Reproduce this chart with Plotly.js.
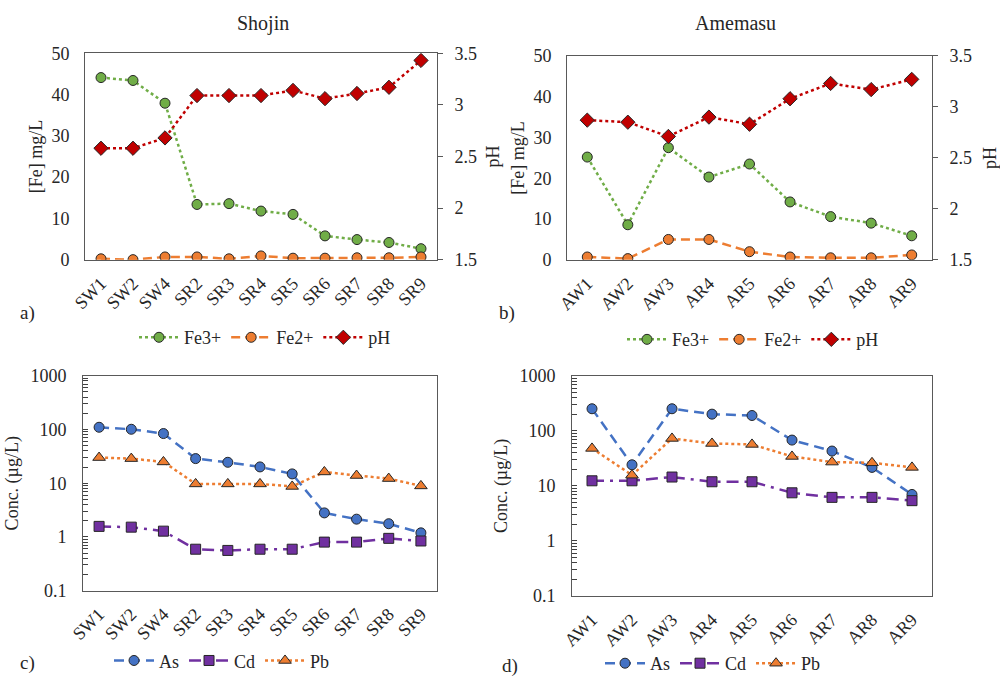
<!DOCTYPE html>
<html>
<head>
<meta charset="utf-8">
<script src="https://cdn.plot.ly/plotly-3.0.1.min.js"></script>
<style>
  html, body { margin: 0; padding: 0; background: #fff; }
  #chart { width: 1000px; height: 682px; }
</style>
</head>
<body>
<div id="chart"></div>
<script>
// Sampling sites
const shojinSites = ['SW1', 'SW2', 'SW4', 'SR2', 'SR3', 'SR4', 'SR5', 'SR6', 'SR7', 'SR8', 'SR9'];
const amemasuSites = ['AW1', 'AW2', 'AW3', 'AR4', 'AR5', 'AR6', 'AR7', 'AR8', 'AR9'];

// Iron species (mg/L) and pH — Shojin
const shojinFe3 = [44.1, 43.4, 37.9, 13.4, 13.6, 11.8, 11.0, 5.8, 4.9, 4.2, 2.7];
const shojinFe2 = [0.25, 0.05, 0.7, 0.7, 0.25, 0.95, 0.4, 0.4, 0.5, 0.5, 0.7];
const shojinPH = [2.58, 2.58, 2.68, 3.09, 3.09, 3.09, 3.14, 3.06, 3.11, 3.17, 3.43];

// Iron species (mg/L) and pH — Amemasu
const amemasuFe3 = [25.2, 8.6, 27.5, 20.3, 23.5, 14.2, 10.6, 9.0, 5.9];
const amemasuFe2 = [0.7, 0.3, 5.0, 5.0, 2.0, 0.7, 0.5, 0.5, 1.2];
const amemasuPH = [2.87, 2.85, 2.71, 2.90, 2.83, 3.08, 3.23, 3.17, 3.27];

// Trace metals (µg/L) — Shojin
const shojinAs = [110, 101, 84, 28.7, 24.5, 20.1, 14.9, 2.8, 2.14, 1.76, 1.19];
const shojinCd = [1.57, 1.52, 1.28, 0.59, 0.56, 0.59, 0.59, 0.80, 0.80, 0.94, 0.84];
const shojinPb = [30, 28.7, 24.9, 9.7, 9.7, 9.7, 8.7, 16.2, 13.9, 12.2, 8.9];

// Trace metals (µg/L) — Amemasu
const amemasuAs = [252, 24.2, 252, 201, 190, 68, 43, 21.7, 7.0];
const amemasuCd = [12.4, 12.4, 14.5, 11.9, 11.9, 7.5, 6.2, 6.2, 5.4];
const amemasuPb = [48, 15.7, 72.8, 59, 56.7, 34.3, 27.1, 26.3, 21.7];

// Decade labels of the concentration axis
const decadeLabels = ['0.1', '1', '10', '100', '1000'];

const FONT = 'Liberation Serif';
const TXT = '#262626';
const AXLINE = '#595959';
const MK_LINE = { color: '#262626', width: 1 };

const GREEN = '#70AD47', ORANGE = '#ED7D31', RED = '#C00000';
const BLUE = '#4472C4', PURPLE = '#7030A0';

function ironTraces(x, fe3, fe2, ph, xa, ya, ya2, leg) {
  return [
    { x: x, y: fe3, name: 'Fe3+', xaxis: xa, yaxis: ya, legend: leg, type: 'scatter', mode: 'lines+markers',
      line: { color: GREEN, width: 2.5, dash: 'dot' },
      marker: { symbol: 'circle', size: 10, color: GREEN, line: MK_LINE } },
    { x: x, y: fe2, name: 'Fe2+', xaxis: xa, yaxis: ya, legend: leg, type: 'scatter', mode: 'lines+markers',
      line: { color: ORANGE, width: 2.5, dash: '9px,5px' },
      marker: { symbol: 'circle', size: 10, color: ORANGE, line: MK_LINE } },
    { x: x, y: ph, name: 'pH', xaxis: xa, yaxis: ya2, legend: leg, type: 'scatter', mode: 'lines+markers',
      line: { color: RED, width: 2.5, dash: 'dot' },
      marker: { symbol: 'diamond', size: 11, color: RED, line: MK_LINE } }
  ];
}

function metalTraces(x, as, cd, pb, xa, ya, leg) {
  return [
    { x: x, y: as, name: 'As', xaxis: xa, yaxis: ya, legend: leg, type: 'scatter', mode: 'lines+markers',
      line: { color: BLUE, width: 2.5, dash: '10px,6px' },
      marker: { symbol: 'circle', size: 10, color: BLUE, line: MK_LINE } },
    { x: x, y: cd, name: 'Cd', xaxis: xa, yaxis: ya, legend: leg, type: 'scatter', mode: 'lines+markers',
      line: { color: PURPLE, width: 2.5, dash: '12px,6px,3px,6px' },
      marker: { symbol: 'square', size: 10, color: PURPLE, line: MK_LINE } },
    { x: x, y: pb, name: 'Pb', xaxis: xa, yaxis: ya, legend: leg, type: 'scatter', mode: 'lines+markers',
      line: { color: ORANGE, width: 2.5, dash: 'dot' },
      marker: { symbol: 'triangle-up', size: 11, color: ORANGE, line: MK_LINE } }
  ];
}

const data = [].concat(
  ironTraces(shojinSites, shojinFe3, shojinFe2, shojinPH, 'x', 'y', 'y2', 'legend'),
  ironTraces(amemasuSites, amemasuFe3, amemasuFe2, amemasuPH, 'x2', 'y3', 'y4', 'legend2'),
  metalTraces(shojinSites, shojinAs, shojinCd, shojinPb, 'x3', 'y5', 'legend3'),
  metalTraces(amemasuSites, amemasuAs, amemasuCd, amemasuPb, 'x4', 'y6', 'legend4')
);

const tickFont = { family: FONT, size: 18, color: TXT };
const titleFont = { family: FONT, size: 18, color: TXT };

// Log-axis ticks: labelled decades plus unlabelled 2..9 subdivisions
const logTickVals = [], logTickText = [];
decadeLabels.forEach(function (lab, i) {
  const base = Math.pow(10, i - 1);
  logTickVals.push(base); logTickText.push(lab);
  if (i < decadeLabels.length - 1) {
    for (let k = 2; k <= 9; k++) { logTickVals.push(base * k); logTickText.push(''); }
  }
});

function xAxis(domain, anchor, n) {
  return {
    domain: domain, anchor: anchor, type: 'category', range: [-0.5, n - 0.5],
    showline: true, linecolor: AXLINE, linewidth: 1, mirror: true,
    ticks: '', tickangle: -45, tickfont: tickFont, ticklabelstandoff: 5,
    showgrid: false, zeroline: false
  };
}

function feAxis(domain, anchor) {
  return {
    domain: domain, anchor: anchor, range: [0, 50], dtick: 10,
    showline: true, linecolor: AXLINE, linewidth: 1, mirror: true,
    ticks: '', tickfont: tickFont, ticklabelstandoff: 11,
    showgrid: false, zeroline: false,
    title: { text: '[Fe] mg/L', font: titleFont, standoff: 4 }
  };
}

function phAxis(overlay, anchor, standoff) {
  return {
    overlaying: overlay, anchor: anchor, side: 'right', range: [1.5, 3.5], dtick: 0.5,
    showline: true, linecolor: AXLINE, linewidth: 1,
    ticks: 'outside', ticklen: 5, tickcolor: AXLINE, tickfont: tickFont, ticklabelstandoff: 8,
    showgrid: false, zeroline: false,
    title: { text: 'pH', font: titleFont, standoff: standoff }
  };
}

function concAxis(domain, anchor) {
  return {
    domain: domain, anchor: anchor, type: 'log', range: [-1, 3],
    tickmode: 'array', tickvals: logTickVals, ticktext: logTickText,
    showline: true, linecolor: AXLINE, linewidth: 1, mirror: true,
    ticks: 'inside', ticklen: 5, tickwidth: 1, tickcolor: '#404040', tickfont: tickFont,
    ticklabelstandoff: 12,
    showgrid: false, zeroline: false,
    title: { text: 'Conc. (µg/L)', font: titleFont, standoff: 7 }
  };
}

// Horizontal legend kept inside the page so it never pushes the margins
function legendAt(x, y, yanchor) {
  return {
    orientation: 'h', x: x, y: y, xanchor: 'center', yanchor: yanchor,
    font: { family: FONT, size: 18, color: TXT }, bgcolor: 'rgba(0,0,0,0)',
    itemwidth: 40, tracegroupgap: 0
  };
}

function label(text, x, y, size) {
  return { text: text, x: x, y: y, xref: 'paper', yref: 'paper', showarrow: false,
           xanchor: 'center', yanchor: 'middle', font: { family: FONT, size: size, color: TXT } };
}

const layout = {
  width: 1000, height: 682,
  margin: { l: 0, r: 0, t: 0, b: 0 },
  paper_bgcolor: '#fff', plot_bgcolor: '#fff',
  showlegend: true,
  font: { family: FONT, color: TXT },

  xaxis: xAxis([0.085, 0.437], 'y', shojinSites.length),
  yaxis: feAxis([0.619, 0.922], 'x'),
  yaxis2: phAxis('y', 'x', 10),

  xaxis2: xAxis([0.567, 0.932], 'y3', amemasuSites.length),
  yaxis3: feAxis([0.619, 0.918], 'x2'),
  yaxis4: phAxis('y3', 'x2', 14),

  xaxis3: xAxis([0.083, 0.437], 'y5', shojinSites.length),
  yaxis5: concAxis([0.134, 0.449], 'x3'),

  xaxis4: xAxis([0.572, 0.932], 'y6', amemasuSites.length),
  yaxis6: concAxis([0.126, 0.449], 'x4'),

  legend: legendAt(0.265, 0.505, 'middle'),
  legend2: legendAt(0.753, 0.502, 'middle'),
  legend3: legendAt(0.222, 0.004, 'bottom'),
  legend4: legendAt(0.713, 0.0, 'bottom'),

  annotations: [
    label('Shojin', 0.263, 0.966, 20),
    label('Amemasu', 0.735, 0.966, 20),
    label('a)', 0.027, 0.541, 19),
    label('b)', 0.507, 0.541, 19),
    label('c)', 0.027, 0.028, 19),
    label('d)', 0.510, 0.024, 19)
  ]
};

Plotly.newPlot('chart', data, layout, { displayModeBar: false });
</script>
</body>
</html>
